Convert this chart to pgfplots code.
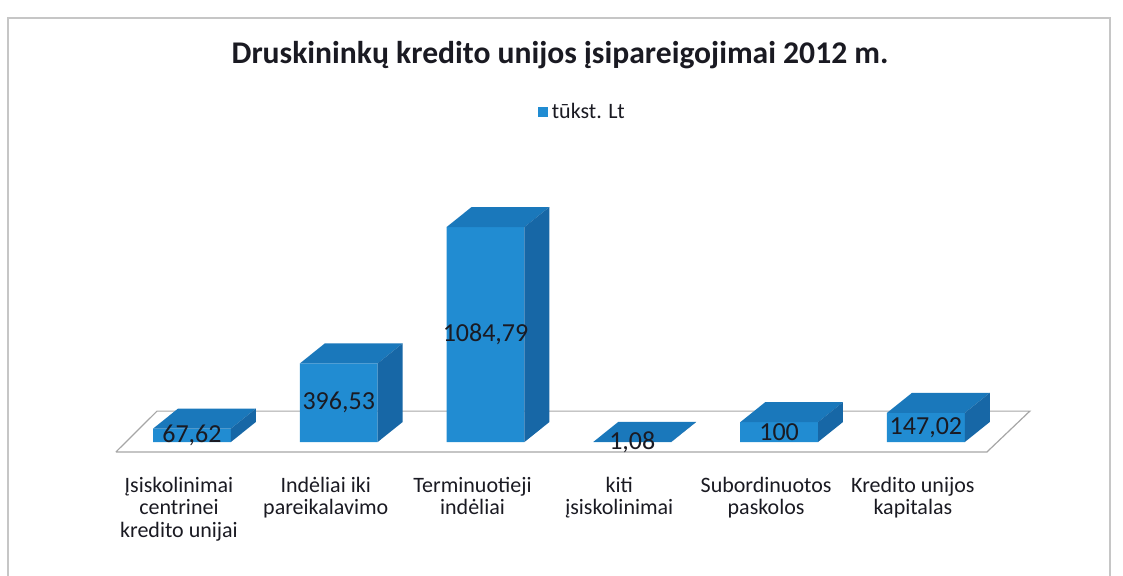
\documentclass[border=0pt]{standalone}
\usepackage{pgfplots}
\pgfplotsset{compat=1.18}
\usepackage{pgfplotstable}
\usepackage{fontspec}
\setmainfont{Carlito}
\definecolor{frontc}{HTML}{218CD2}
\definecolor{topc}{HTML}{1A78BB}
\definecolor{sidec}{HTML}{1767A6}
\definecolor{txt}{HTML}{1A1A22}

\pgfplotstableread{
x v label
0 67.62 67,62
1 396.53 396,53
2 1084.79 1084,79
3 1.08 1,08
4 100 100
5 147.02 147,02
}\datatable

\begin{document}
\begin{tikzpicture}
\useasboundingbox (0,0) rectangle (561.5pt,-288pt);
\draw[gray!45, line width=0.6pt] (4pt,-300pt) -- (4pt,-9pt) -- (555pt,-9pt) -- (555pt,-300pt);
\node[font=\fontsize{15.8}{18}\selectfont\bfseries, text=txt] at (280pt,-27.5pt) {Druskininkų kredito unijos įsipareigojimai 2012 m.};
\begin{axis}[
  at={(44.6pt,-228.95pt)}, anchor=south west,
  width=484.4pt, height=126.85pt, scale only axis,
  xmin=-0.7, xmax=5.9, ymin=-80, ymax=1200,
  clip=false,
  axis line style={draw=none},
  tick style={draw=none},
  ytick=\empty,
  xtick={0,1,2,3,4,5},
  xticklabels={{Įsiskolinimai\\centrinei\\kredito unijai},{Indėliai iki\\pareikalavimo},{Terminuotieji\\indėliai},{kiti\\įsiskolinimai},{Subordinuotos\\paskolos},{Kredito unijos\\kapitalas}},
  xticklabel style={align=center, font=\fontsize{11}{11.25}\selectfont, text=txt, xshift=-6.5pt, yshift=-6pt},
  legend style={at={(0.5100,1.363)}, anchor=center, draw=none, fill=none, font=\fontsize{11}{13}\selectfont, text=txt},
  legend image code/.code={\fill[#1] (0pt,-2.5pt) rectangle (5pt,2.5pt);},
]
% floor
\addplot[gray!70, line width=0.6pt, forget plot] coordinates {(-0.518,-50) (5.416,-50) (5.708,156) (-0.238,156) (-0.518,-50)};
% front faces
\addplot[ybar, bar width=0.53, bar shift=0pt, fill=frontc, draw=none] table[x=x, y=v] {\datatable};
\addlegendentry{tūkst. Lt}
% top and side faces
\addplot[fill=topc, draw=none, forget plot] coordinates {(-0.265,67.62)(0.265,67.62)(0.435,168.62)(-0.095,168.62)};
\addplot[fill=sidec, draw=none, forget plot] coordinates {(0.265,0)(0.435,101)(0.435,168.62)(0.265,67.62)};
\addplot[fill=topc, draw=none, forget plot] coordinates {(0.735,396.53)(1.265,396.53)(1.435,497.53)(0.905,497.53)};
\addplot[fill=sidec, draw=none, forget plot] coordinates {(1.265,0)(1.435,101)(1.435,497.53)(1.265,396.53)};
\addplot[fill=topc, draw=none, forget plot] coordinates {(1.735,1084.79)(2.265,1084.79)(2.435,1185.79)(1.905,1185.79)};
\addplot[fill=sidec, draw=none, forget plot] coordinates {(2.265,0)(2.435,101)(2.435,1185.79)(2.265,1084.79)};
\addplot[fill=topc, draw=none, forget plot] coordinates {(2.735,1.08)(3.265,1.08)(3.435,102.08)(2.905,102.08)};
\addplot[fill=sidec, draw=none, forget plot] coordinates {(3.265,0)(3.435,101)(3.435,102.08)(3.265,1.08)};
\addplot[fill=topc, draw=none, forget plot] coordinates {(3.735,100)(4.265,100)(4.435,201)(3.905,201)};
\addplot[fill=sidec, draw=none, forget plot] coordinates {(4.265,0)(4.435,101)(4.435,201)(4.265,100)};
\addplot[fill=topc, draw=none, forget plot] coordinates {(4.735,147.02)(5.265,147.02)(5.435,248.02)(4.905,248.02)};
\addplot[fill=sidec, draw=none, forget plot] coordinates {(5.265,0)(5.435,101)(5.435,248.02)(5.265,147.02)};
% value labels
\addplot[draw=none, forget plot, nodes near coords, point meta=explicit symbolic,
  nodes near coords style={anchor=center, font=\fontsize{13}{15}\selectfont, text=txt}]
  table[x=x, y expr=\thisrow{v}/2, meta=label] {\datatable};
\end{axis}
\end{tikzpicture}
\end{document}
